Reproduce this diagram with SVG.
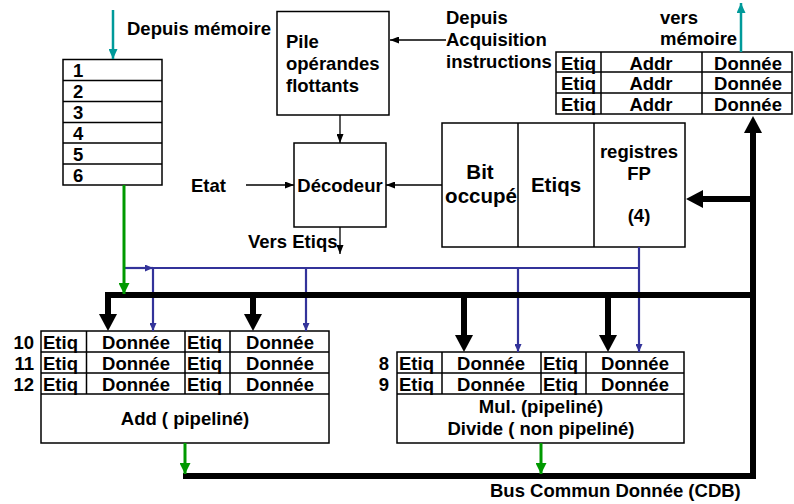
<svg xmlns="http://www.w3.org/2000/svg" width="794" height="504" viewBox="0 0 794 504">
  <style>
    text{font-family:"Liberation Sans",Arial,sans-serif;font-weight:bold;font-size:18.5px;fill:#000}
    .m{text-anchor:middle}
    .e{text-anchor:end}
    .big{font-size:20.5px}
    .box{fill:#fff;stroke:#000;stroke-width:1.5}
    .grid{stroke:#000;stroke-width:1.5;fill:none}
    .thin{stroke:#000;stroke-width:1.3;fill:none}
    .blue{stroke:#33339a;stroke-width:2.2;fill:none}
    .green{stroke:#009900;stroke-width:3;fill:none}
    .teal{stroke:#009a9a;stroke-width:2.5;fill:none}
    .bus{stroke:#000;stroke-width:6;fill:none;stroke-linejoin:miter}
  </style>
  <defs>
    <marker id="aBlack" viewBox="0 0 9 7" refX="9" refY="3.5" markerWidth="9" markerHeight="7" markerUnits="userSpaceOnUse" orient="auto">
      <path d="M0,0 L9,3.5 L0,7 z" fill="#000"/>
    </marker>
    <marker id="aBlue" viewBox="0 0 8 7" refX="8" refY="3.5" markerWidth="8" markerHeight="7" markerUnits="userSpaceOnUse" orient="auto">
      <path d="M0,0 L8,3.5 L0,7 z" fill="#33339a"/>
    </marker>
    <marker id="aGreen" viewBox="0 0 11 11" refX="11" refY="5.5" markerWidth="11" markerHeight="11" markerUnits="userSpaceOnUse" orient="auto">
      <path d="M0,0 L11,5.5 L0,11 z" fill="#009900"/>
    </marker>
    <marker id="aTeal" viewBox="0 0 10 9" refX="10" refY="4.5" markerWidth="10" markerHeight="9" markerUnits="userSpaceOnUse" orient="auto">
      <path d="M0,0 L10,4.5 L0,9 z" fill="#009a9a"/>
    </marker>
    <!-- heavy arrowhead, anchored at its base -->
    <marker id="aBus" viewBox="0 -9 17 18" refX="0" refY="0" markerWidth="17" markerHeight="18" markerUnits="userSpaceOnUse" orient="auto">
      <path d="M0,-9 L17,0 L0,9 z" fill="#000"/>
    </marker>
  </defs>

  <rect width="794" height="504" fill="#fff"/>

  <!-- Instruction queue -->
  <g id="fileInstructions">
    <rect class="box" x="63" y="59.5" width="99" height="125.5"/>
    <path class="grid" d="M63,80.5H162M63,101.5H162M63,122.5H162M63,143H162M63,164H162"/>
    <text x="73" y="77">1</text>
    <text x="73" y="98">2</text>
    <text x="73" y="119">3</text>
    <text x="73" y="140">4</text>
    <text x="73" y="160.5">5</text>
    <text x="73" y="181.5">6</text>
  </g>
  <text id="lblDepuisMemoire" x="127" y="35">Depuis mémoire</text>

  <!-- FP operand stack -->
  <g id="pileOperandes">
    <rect class="box" x="277" y="11.5" width="112" height="103.5"/>
    <text x="286" y="48">Pile</text>
    <text x="286" y="70">opérandes</text>
    <text x="286" y="92">flottants</text>
  </g>
  <g id="lblAcquisition">
    <text x="446" y="24">Depuis</text>
    <text x="446" y="46">Acquisition</text>
    <text x="446" y="68">instructions</text>
  </g>

  <!-- Store buffers -->
  <g id="tamponsEcriture">
    <rect class="box" x="556" y="52" width="236" height="62"/>
    <path class="grid" d="M556,72H792M556,93H792M601,52V114M702,52V114"/>
    <text x="561" y="69.5">Etiq</text>
    <text class="m" x="651" y="69.5">Addr</text>
    <text class="m" x="748" y="69.5">Donnée</text>
    <text x="561" y="90">Etiq</text>
    <text class="m" x="651" y="90">Addr</text>
    <text class="m" x="748" y="90">Donnée</text>
    <text x="561" y="111">Etiq</text>
    <text class="m" x="651" y="111">Addr</text>
    <text class="m" x="748" y="111">Donnée</text>
  </g>
  <g id="lblVersMemoire">
    <text x="660" y="24">vers</text>
    <text x="660" y="45">mémoire</text>
  </g>

  <!-- Decoder -->
  <g id="decodeur">
    <rect class="box" x="294" y="143" width="92" height="84"/>
    <text class="m" x="340" y="192">Décodeur</text>
  </g>
  <text id="lblEtat" x="191" y="192">Etat</text>
  <text id="lblVersEtiqs" x="248" y="248">Vers Etiqs</text>

  <!-- FP registers -->
  <g id="registresFP">
    <rect class="box" x="442" y="123" width="243" height="124"/>
    <path class="grid" d="M518,123V247M594,123V247"/>
    <text class="m big" x="480" y="179">Bit</text>
    <text class="m big" x="481" y="203">occupé</text>
    <text class="m big" x="556" y="192">Etiqs</text>
    <text class="m" x="639" y="158">registres</text>
    <text class="m" x="639" y="180">FP</text>
    <text class="m" x="639" y="222">(4)</text>
  </g>

  <!-- Reservation stations: adder -->
  <g id="stationsAdd">
    <rect class="box" x="41" y="331" width="288" height="112"/>
    <path class="grid" d="M41,352H329M41,373H329M41,394H329M86.5,331V394M185,331V394M230,331V394"/>
    <text x="43" y="349">Etiq</text>
    <text class="m" x="136" y="349">Donnée</text>
    <text x="187" y="349">Etiq</text>
    <text class="m" x="280" y="349">Donnée</text>
    <text x="43" y="370">Etiq</text>
    <text class="m" x="136" y="370">Donnée</text>
    <text x="187" y="370">Etiq</text>
    <text class="m" x="280" y="370">Donnée</text>
    <text x="43" y="391">Etiq</text>
    <text class="m" x="136" y="391">Donnée</text>
    <text x="187" y="391">Etiq</text>
    <text class="m" x="280" y="391">Donnée</text>
    <text class="m" x="185" y="425">Add ( pipeliné)</text>
  </g>
  <g id="numAdd">
    <text class="e" x="34" y="349">10</text>
    <text class="e" x="34" y="370">11</text>
    <text class="e" x="34" y="391">12</text>
  </g>

  <!-- Reservation stations: multiply / divide -->
  <g id="stationsMul">
    <rect class="box" x="397" y="352" width="287" height="91"/>
    <path class="grid" d="M397,373H684M397,394H684M442,352V394M541,352V394M586,352V394"/>
    <text x="399" y="370">Etiq</text>
    <text class="m" x="491" y="370">Donnée</text>
    <text x="543" y="370">Etiq</text>
    <text class="m" x="635" y="370">Donnée</text>
    <text x="399" y="391">Etiq</text>
    <text class="m" x="491" y="391">Donnée</text>
    <text x="543" y="391">Etiq</text>
    <text class="m" x="635" y="391">Donnée</text>
    <text class="m" x="541" y="413">Mul. (pipeliné)</text>
    <text class="m" x="541" y="435">Divide ( non pipeliné)</text>
  </g>
  <g id="numMul">
    <text class="e" x="389" y="370">8</text>
    <text class="e" x="389" y="391">9</text>
  </g>

  <text id="lblCDB" x="490" y="497">Bus Commun Donnée (CDB)</text>

  <!-- Connectors -->
  <g id="connecteurs">
    <line class="teal" x1="113" y1="10" x2="113" y2="59" marker-end="url(#aTeal)"/>
    <line class="teal" x1="741" y1="52" x2="741" y2="3" marker-end="url(#aTeal)"/>

    <line class="thin" x1="446" y1="40" x2="390" y2="40" marker-end="url(#aBlack)"/>
    <line class="thin" x1="340" y1="115" x2="340" y2="143" marker-end="url(#aBlack)"/>
    <line class="thin" x1="246" y1="185" x2="294" y2="185" marker-end="url(#aBlack)"/>
    <line class="thin" x1="442" y1="185" x2="386" y2="185" marker-end="url(#aBlack)"/>
    <line class="thin" x1="340" y1="227" x2="340" y2="254" marker-end="url(#aBlack)"/>

    <!-- tag / operand paths -->
    <line class="blue" x1="124" y1="268" x2="153" y2="268" marker-end="url(#aBlue)"/>
    <line class="blue" x1="153" y1="268" x2="640" y2="268"/>
    <line class="blue" x1="639" y1="247" x2="639" y2="352" marker-end="url(#aBlue)"/>
    <line class="blue" x1="153" y1="268" x2="153" y2="331" marker-end="url(#aBlue)"/>
    <line class="blue" x1="306" y1="268" x2="306" y2="331" marker-end="url(#aBlue)"/>
    <line class="blue" x1="518" y1="268" x2="518" y2="352" marker-end="url(#aBlue)"/>

    <!-- common data bus -->
    <path class="bus" d="M108,314V295H753"/>
    <path class="bus" d="M183,476H753V133"/>
    <path class="bus" d="M753,135V133" marker-end="url(#aBus)"/>
    <path class="bus" d="M108,313V314" marker-end="url(#aBus)"/>
    <path class="bus" d="M253,295V314" marker-end="url(#aBus)"/>
    <path class="bus" d="M464,295V335" marker-end="url(#aBus)"/>
    <path class="bus" d="M608,295V335" marker-end="url(#aBus)"/>
    <path class="bus" d="M753,199H703" marker-end="url(#aBus)"/>

    <line class="green" x1="124" y1="185" x2="124" y2="294" marker-end="url(#aGreen)"/>
    <line class="green" x1="185" y1="443" x2="185" y2="474" marker-end="url(#aGreen)"/>
    <line class="green" x1="541" y1="443" x2="541" y2="474" marker-end="url(#aGreen)"/>
  </g>
</svg>
